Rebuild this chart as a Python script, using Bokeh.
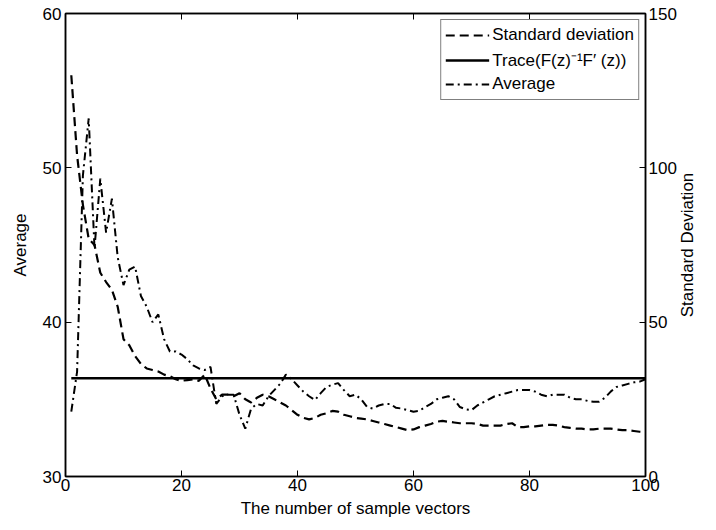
import math
from bokeh.plotting import figure
from bokeh.models import (LinearAxis, Range1d, Legend, LegendItem, FixedTicker,
                          CustomJSTickFormatter, Label)
from bokeh.embed import file_html
from bokeh.resources import INLINE

# ---------------- data ----------------
sample_x = list(range(1, 101))

average_vals = [34.2, 36.8, 49.5, 53.2, 44.8, 49.3, 45.8, 48.0, 44.2, 42.4,
                43.4, 43.6, 41.7, 41.0, 40.0, 40.5, 38.9, 38.1, 38.1, 37.9,
                37.6, 37.2, 37.0, 36.9, 37.1, 34.7, 35.2, 35.3, 35.3, 34.0,
                33.1, 34.4, 34.7, 34.6, 35.2, 35.6, 36.0, 36.6, 36.3, 35.9,
                35.5, 35.2, 34.95, 35.4, 35.8, 35.95, 36.05, 35.6, 35.2, 35.3,
                35.0, 34.5, 34.4, 34.6, 34.7, 34.7, 34.45, 34.4, 34.3, 34.2,
                34.25, 34.5, 34.7, 35.0, 35.1, 35.2, 35.0, 34.5, 34.35, 34.3,
                34.6, 34.8, 35.0, 35.2, 35.3, 35.4, 35.5, 35.6, 35.6, 35.6,
                35.5, 35.3, 35.2, 35.3, 35.3, 35.3, 35.1, 35.0, 35.0, 34.9,
                34.85, 34.85, 35.1, 35.5, 35.8, 35.9, 36.0, 36.1, 36.15, 36.3]

std_vals = [130, 104, 88, 77, 75, 66, 63, 60.5, 55, 44.5,
            42.5, 39, 36.5, 35, 34.5, 34, 33, 32.5, 31.5, 31,
            31.25, 31.5, 31, 33, 28.5, 25, 26.5, 26.5, 26, 27,
            25, 24, 25.5, 26.5, 26, 25, 24, 23, 21.5, 20,
            19, 18.5, 19, 20, 20.5, 21.25, 21, 20, 19.5, 19,
            18.75, 18.5, 18, 17.5, 17, 16.5, 16, 15.5, 15, 15.25,
            16, 16.5, 17, 17.75, 18, 17.75, 17.5, 17.25, 17.25, 17.25,
            17, 16.5, 16.5, 16.5, 16.5, 17, 17.25, 16, 16, 16.25,
            16.25, 16.5, 16.75, 16.75, 16.5, 16, 15.75, 15.5, 15.5, 15.25,
            15.25, 15.5, 15.5, 15.5, 15.25, 15, 15, 14.75, 14.5, 14.25]

trace_x = [1, 100]
trace_vals = [36.36, 36.36]

x_ticks = [0, 20, 40, 60, 80, 100]
left_ticks = [30, 40, 50, 60]
right_ticks = [0, 50, 100, 150]

FONT = "Liberation Sans"
FS = "17px"

W, H = 700, 520
p = figure(width=W, height=H, x_range=Range1d(0, 100), y_range=Range1d(30, 60),
           output_backend="svg", toolbar_location=None,
           min_border_left=65, min_border_right=55, min_border_top=13, min_border_bottom=39)
p.extra_y_ranges = {"sd": Range1d(0, 150)}
p.grid.visible = False
p.outline_line_color = "black"
p.outline_line_width = 1.5
p.background_fill_color = "white"
p.border_fill_color = "white"

def style_axis(ax):
    ax.axis_line_width = 1.5
    ax.axis_line_color = "black"
    ax.major_tick_in = 6
    ax.major_tick_out = 0
    ax.major_tick_line_width = 1
    ax.minor_tick_line_color = None
    ax.major_label_text_font = FONT
    ax.major_label_text_font_size = FS
    ax.major_label_text_color = "black"
    ax.axis_label_text_font = FONT
    ax.axis_label_text_font_size = FS
    ax.axis_label_text_font_style = "normal"
    ax.axis_label_text_color = "black"

xa = p.xaxis[0]
xa.ticker = FixedTicker(ticks=x_ticks)
xa.axis_label = "The number of sample vectors"
style_axis(xa)
xa.major_label_standoff = 2
xa.axis_label_standoff = 5

ya = p.yaxis[0]
ya.ticker = FixedTicker(ticks=left_ticks)
ya.axis_label = "Average"
style_axis(ya)
ya.major_label_standoff = 4
ya.axis_label_standoff = 10

ra = LinearAxis(y_range_name="sd", ticker=FixedTicker(ticks=right_ticks))
style_axis(ra)
ra.major_label_standoff = 3
p.add_layout(ra, "right")

ta = LinearAxis(ticker=FixedTicker(ticks=x_ticks),
                formatter=CustomJSTickFormatter(code="return ''"))
style_axis(ta)
ta.major_label_standoff = 0
p.add_layout(ta, "above")

# right-hand axis title, reading bottom to top like the left one,
# placed in the right side panel so that the frame does not clip it
right_title = Label(text="Standard Deviation", x=107.3, y=45,
                    angle=math.pi / 2,
                    text_align="center", text_baseline="middle",
                    text_font=FONT, text_font_size=FS, text_color="black")
p.add_layout(right_title, "right")

r_sd = p.line(sample_x, std_vals, y_range_name="sd", line_color="black",
              line_width=2.2, line_dash="9 5")
r_tr = p.line(trace_x, trace_vals, line_color="black", line_width=2.5)
r_av = p.line(sample_x, average_vals, line_color="black", line_width=2,
              line_dash="8 4 2 4")

legend = Legend(items=[
    LegendItem(label="Standard deviation", renderers=[r_sd]),
    LegendItem(label="Trace(F(z)\u207b\u00b9F\u2032 (z))", renderers=[r_tr]),
    LegendItem(label="Average", renderers=[r_av]),
], location="top_right")
legend.border_line_color = "black"
legend.border_line_width = 1
legend.background_fill_color = "white"
legend.background_fill_alpha = 1
legend.label_text_font = FONT
legend.label_text_font_size = FS
legend.label_text_color = "black"
legend.glyph_width = 44
legend.glyph_height = 22
legend.label_standoff = 3
legend.label_height = 22
legend.spacing = 2
legend.padding = 4
legend.margin = 6
p.add_layout(legend)

open("out.html", "w").write(file_html(p, INLINE))
